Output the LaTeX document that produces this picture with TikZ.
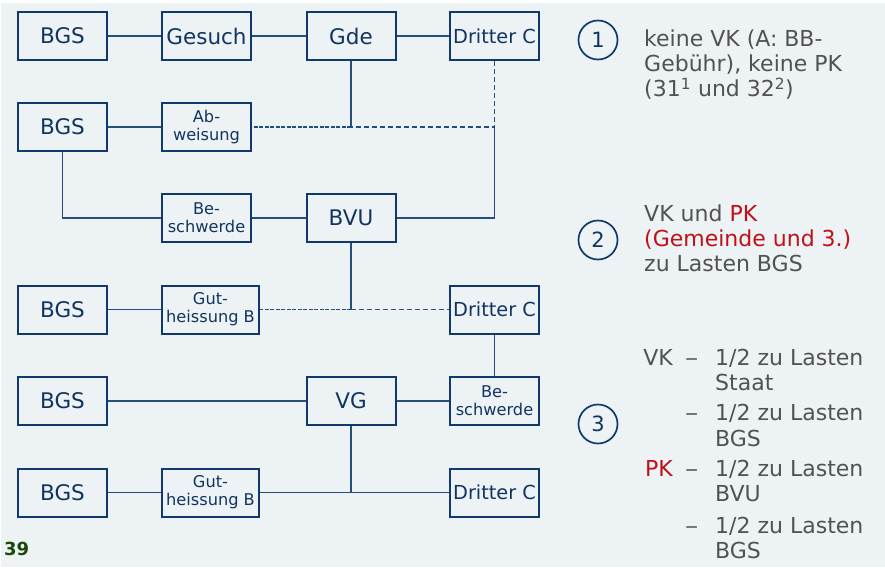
\documentclass[tikz,border=0pt]{standalone}
\usepackage{fontspec}
\setmainfont{DejaVu Sans}
\definecolor{bg}{RGB}{237,242,245}
\definecolor{boxc}{RGB}{16,58,107}
\definecolor{linec}{RGB}{38,78,124}
\definecolor{txtblue}{RGB}{18,52,96}
\definecolor{txtgray}{RGB}{82,82,82}
\definecolor{txtred}{RGB}{192,16,24}
\definecolor{pagenum}{RGB}{26,72,10}
\newcommand{\widedash}{\scalebox{1.2}[1]{–}}
\tikzset{
  x=1pt, y=-1pt,
  boxnode/.style={draw=boxc, line width=2pt, fill=bg, text=txtblue, inner sep=0pt,
    minimum width=89pt, minimum height=48pt, align=center,
    font=\fontsize{21.5}{25}\selectfont},
  smallbox/.style={boxnode, font=\fontsize{16.2}{18}\selectfont},
  widebox/.style={smallbox, minimum width=97pt},
  thirdbox/.style={boxnode, font=\fontsize{19.3}{22}\selectfont},
  conn/.style={draw=linec, line width=1.6pt},
  connd/.style={conn, dash pattern=on 5pt off 3pt},
  conndd/.style={conn, dash pattern=on 4pt off 1.5pt},
  numcirc/.style={circle, draw=boxc, line width=1.7pt, minimum size=39pt, inner sep=0pt,
    text=txtblue, font=\fontsize{21}{24}\selectfont},
  note/.style={anchor=base west, inner sep=0pt, text=txtgray, font=\fontsize{22}{25}\selectfont},
  notee/.style={note, anchor=base east},
}
\begin{document}
\begin{tikzpicture}
% page background
\fill[white] (0,0) rectangle (885,567);
\fill[bg] (1,3) rectangle (885,567);
\useasboundingbox (0,0) rectangle (885,567);

% row 1
\node[boxnode]  (bgsA)  at (62.5,36)  {BGS};
\node[boxnode]  (ges)   at (206.5,36) {Gesuch};
\node[boxnode]  (gde)   at (351,36)   {Gde};
\node[thirdbox] (dritA) at (494.5,36) {Dritter C};
% row 2
\node[boxnode]  (bgsB)  at (62.5,127)  {BGS};
\node[smallbox] (abw)   at (206.5,127) {Ab-\\weisung};
% row 3
\node[smallbox] (beschA) at (206.5,218) {Be-\\schwerde};
\node[boxnode]  (bvu)    at (351,218)   {BVU};
% row 4
\node[boxnode]  (bgsC)  at (62.5,309.5)  {BGS};
\node[widebox]  (gutA)  at (210.5,309.5) {Gut-\\heissung B};
\node[thirdbox] (dritB) at (494.5,309.5) {Dritter C};
% row 5
\node[boxnode]  (bgsD)   at (62.5,401)  {BGS};
\node[boxnode]  (vg)     at (351,401)   {VG};
\node[smallbox] (beschB) at (494.5,401) {Be-\\schwerde};
% row 6
\node[boxnode]  (bgsE)  at (62.5,492.5)  {BGS};
\node[widebox]  (gutB)  at (210.5,492.5) {Gut-\\heissung B};
\node[thirdbox] (dritC) at (494.5,492.5) {Dritter C};

% junction points
\coordinate (j1) at (gde.south |- abw.east);
\coordinate (k1) at (dritA.south |- abw.east);
\coordinate (j2) at (bvu.south |- gutA.east);
\coordinate (j3) at (vg.south |- gutB.east);

% connectors
\draw[conn] (bgsA) -- (ges);
\draw[conn] (ges) -- (gde);
\draw[conn] (gde) -- (dritA);
\draw[conn] (bgsB) -- (abw);
\draw[conn] (gde.south) -- (j1);
\draw[conndd] (j1) -- (abw.east);
\draw[connd] (dritA.south) -- (k1) -- (j1);
\draw[conn] (k1) |- (bvu.east);
\draw[conn] (bgsB.south) |- (beschA.west);
\draw[conn] (beschA) -- (bvu);
\draw[conn] (bgsC) -- (gutA);
\draw[conn] (bvu.south) -- (j2);
\draw[conndd] (j2) -- (gutA.east);
\draw[connd] (j2) -- (dritB.west);
\draw[conn] (dritB.south) -- (beschB.north);
\draw[conn] (bgsD) -- (vg);
\draw[conn] (vg) -- (beschB);
\draw[conn] (bgsE) -- (gutB);
\draw[conn] (gutB) -- (dritC);
\draw[conn] (vg.south) -- (j3);

% numbered notes
\node[numcirc] (c1) at (598,40)  {1};
\node[numcirc] (c2) at (598,240) {2};
\node[numcirc] (c3) at (598,424) {3};

\node[note] (n1a) at (644,46.7) {keine VK (A: BB-};
\node[note] (n1b) at (644,71.7) {Gebühr), keine PK};
\node[note] (n1c) at (644,96.7) {(31\textsuperscript{1} und 32\textsuperscript{2})};

\node[note] (n2a) at (644,221.7) {VK und \textcolor{txtred}{PK}};
\node[note, text=txtred] (n2b) at (644,246.7) {(Gemeinde und 3.)};
\node[note] (n2c) at (644,271.7) {zu Lasten BGS};

\node[notee] (vk) at (673,365) {VK};
\node[note]  (d1) at (685,365) {\widedash};
\node[note]  (t1) at (715,365) {1/2 zu Lasten};
\node[note]  (t1b) at (715,390) {Staat};
\node[note]  (d2) at (685,420.7) {\widedash};
\node[note]  (t2) at (715,420.7) {1/2 zu Lasten};
\node[note]  (t2b) at (715,446) {BGS};
\node[notee, text=txtred] (pk) at (673,476.7) {PK};
\node[note]  (d3) at (685,476.7) {\widedash};
\node[note]  (t3) at (715,476.7) {1/2 zu Lasten};
\node[note]  (t3b) at (715,501.7) {BVU};
\node[note]  (d4) at (685,533) {\widedash};
\node[note]  (t4) at (715,533) {1/2 zu Lasten};
\node[note]  (t4b) at (715,558) {BGS};

% page number
\node[anchor=base west, inner sep=0pt, text=pagenum, font=\fontsize{18}{20}\selectfont\bfseries] (pg) at (4,555) {39};
\end{tikzpicture}
\end{document}
